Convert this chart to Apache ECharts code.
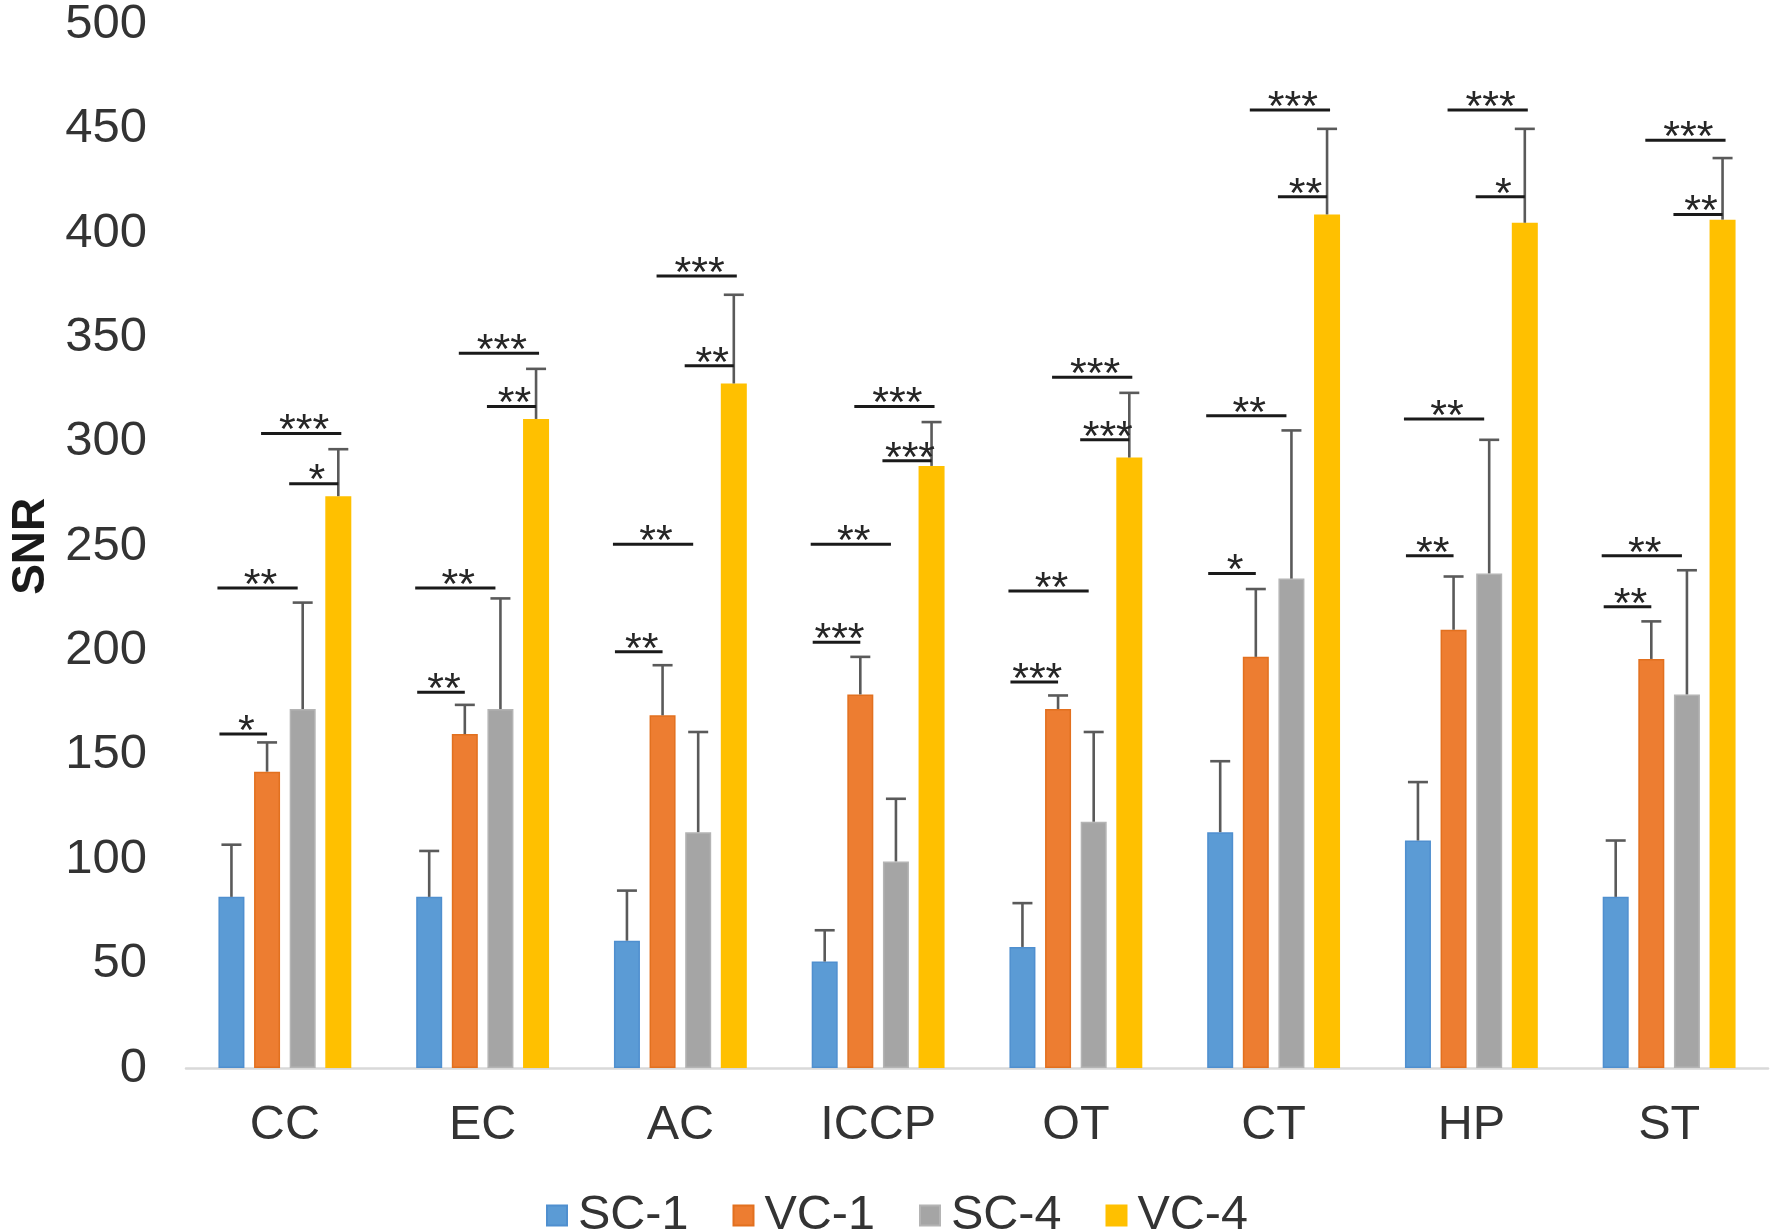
<!DOCTYPE html>
<html>
<head>
<meta charset="utf-8">
<script src="https://cdn.jsdelivr.net/npm/echarts@6/dist/echarts.min.js"></script>
<style>
html,body{margin:0;padding:0;background:#fff;}
#chart{width:1772px;height:1232px;}
</style>
</head>
<body>
<div id="chart"></div>
<script>
// ---------- data ----------
var categories = ['CC', 'EC', 'AC', 'ICCP', 'OT', 'CT', 'HP', 'ST'];
var seriesNames = ['SC-1', 'VC-1', 'SC-4', 'VC-4'];
var sc1    = [82, 82, 61, 51, 58, 113, 109, 82];
var sc1Err = [25, 22, 24, 15, 21, 34, 28, 27];
var vc1    = [142, 160, 169, 179, 172, 197, 210, 196];
var vc1Err = [14, 14, 24, 18, 6.5, 32.5, 25.5, 18];
var sc4    = [172, 172, 113, 99, 118, 234.5, 237, 179];
var sc4Err = [51, 53, 48, 30, 43, 71, 64, 59.5];
var vc4    = [274, 311, 328, 288.5, 292.5, 409, 405, 406.5];
var vc4Err = [22.5, 24, 42.5, 21, 31, 41, 45, 29.5];
var yTicks = [0, 50, 100, 150, 200, 250, 300, 350, 400, 450, 500];
// significance brackets: [category index, from bar, to bar, level (SNR), label]
var significance = [
  [0, 0, 1, 160, '*'],   [0, 0, 2, 230, '**'], [0, 2, 3, 280, '*'],   [0, 1, 3, 304, '***'],
  [1, 0, 1, 180, '**'],  [1, 0, 2, 230, '**'], [1, 2, 3, 317, '**'],  [1, 1, 3, 342.5, '***'],
  [2, 0, 1, 199.5, '**'],[2, 0, 2, 251, '**'], [2, 2, 3, 336.5, '**'],[2, 1, 3, 379.5, '***'],
  [3, 0, 1, 204, '***'], [3, 0, 2, 251, '**'], [3, 2, 3, 291, '***'], [3, 1, 3, 317, '***'],
  [4, 0, 1, 185, '***'], [4, 0, 2, 228.5, '**'],[4, 2, 3, 301, '***'],[4, 1, 3, 331, '***'],
  [5, 0, 1, 237, '*'],   [5, 0, 2, 312.5, '**'],[5, 2, 3, 417.5, '**'],[5, 1, 3, 459, '***'],
  [6, 0, 1, 245.5, '**'],[6, 0, 2, 311, '**'], [6, 2, 3, 417.5, '*'], [6, 1, 3, 459, '***'],
  [7, 0, 1, 221, '**'],  [7, 0, 2, 245.5, '**'],[7, 2, 3, 409, '**'], [7, 1, 3, 444.5, '***']
];

// ---------- style ----------
var FONT = "'Liberation Sans', Arial, sans-serif";
var colors = ['#5B9BD5', '#ED7D31', '#A5A5A5', '#FFC000'];
var borders = ['#4f8fcf', '#e2701f', '#b4b4b4', '#FFC000'];
var BAR_W = 26;
var BAR_GAP = 0.37;
var STEP = BAR_W * (1 + BAR_GAP);
var barOffsets = [-1.5 * STEP, -0.5 * STEP, 0.5 * STEP, 1.5 * STEP];
var endAdjust = { '0-1': [-12, 0], '0-2': [-14, -5], '2-3': [-13.5, 0], '1-3': [-6, 3] };

var means = [sc1, vc1, sc4, vc4];
var errs = [sc1Err, vc1Err, sc4Err, vc4Err];

var errData = [];
for (var s = 0; s < 4; s++) {
  for (var c = 0; c < categories.length; c++) {
    errData.push([c, means[s][c], means[s][c] + errs[s][c], s]);
  }
}

function renderErr(params, api) {
  var c = api.value(0), m = api.value(1), top = api.value(2), s = api.value(3);
  var p0 = api.coord([c, m]);
  var p1 = api.coord([c, top]);
  var x = p0[0] + barOffsets[s];
  var cap = 10;
  var st = { stroke: '#5a5a5a', lineWidth: 2.6 };
  return {
    type: 'group',
    children: [
      { type: 'line', shape: { x1: x, y1: p0[1], x2: x, y2: p1[1] }, style: st },
      { type: 'line', shape: { x1: x - cap, y1: p1[1], x2: x + cap, y2: p1[1] }, style: st }
    ]
  };
}

function renderSig(params, api) {
  var item = significance[params.dataIndex];
  var c = item[0], from = item[1], to = item[2], lvl = item[3], label = item[4];
  var p = api.coord([c, lvl]);
  var adj = endAdjust[from + '-' + to];
  var x1 = p[0] + barOffsets[from] + adj[0];
  var x2 = p[0] + barOffsets[to] + adj[1];
  return {
    type: 'group',
    children: [
      { type: 'line', shape: { x1: x1, y1: p[1], x2: x2, y2: p[1] }, style: { stroke: '#1a1a1a', lineWidth: 3 } },
      { type: 'text', x: (x1 + x2) / 2 + 3, y: p[1] - 2,
        style: { text: label, fill: '#262626', font: '43px ' + FONT, align: 'center', verticalAlign: 'middle' } }
    ]
  };
}

var series = seriesNames.map(function (n, i) {
  return {
    name: n, type: 'bar', data: means[i], barWidth: BAR_W, barGap: (BAR_GAP * 100) + '%',
    itemStyle: { color: colors[i], borderColor: borders[i], borderWidth: 1.5 },
    silent: true, animation: false
  };
});
series.push({
  type: 'custom', renderItem: renderErr, data: errData, encode: { x: 0, y: [1, 2] },
  clip: false, silent: true, animation: false, z: 5
});
series.push({
  type: 'custom', renderItem: renderSig,
  data: significance.map(function (d) { return [d[0], d[3]]; }),
  encode: { x: 0, y: 1 }, clip: false, silent: true, animation: false, z: 6
});

var chart = echarts.init(document.getElementById('chart'), null, { renderer: 'canvas' });
chart.setOption({
  backgroundColor: '#ffffff',
  animation: false,
  textStyle: { fontFamily: FONT },
  grid: { left: 174, right: 4, top: 20, bottom: 164, containLabel: false },
  legend: {
    data: seriesNames, left: 546, top: 1191, padding: 0,
    icon: 'rect', itemWidth: 20, itemHeight: 20, itemGap: 44,
    textStyle: { fontSize: 48.5, color: '#333', fontFamily: FONT, padding: [0, 0, 0, 6] }
  },
  xAxis: {
    type: 'category', data: categories,
    axisTick: { show: false },
    axisLine: { lineStyle: { color: '#d9d9d9', width: 2.5 } },
    axisLabel: { fontSize: 48.5, color: '#333', margin: 33, interval: 0, fontFamily: FONT }
  },
  yAxis: {
    type: 'value', min: yTicks[0], max: yTicks[yTicks.length - 1], interval: yTicks[1] - yTicks[0],
    name: 'SNR', nameLocation: 'middle', nameGap: 132,
    nameTextStyle: { fontSize: 46, fontWeight: 'bold', color: '#1a1a1a', fontFamily: FONT },
    axisLine: { show: false }, axisTick: { show: false }, splitLine: { show: false },
    axisLabel: { fontSize: 49, color: '#333', margin: 39, fontFamily: FONT }
  },
  series: series
});
</script>
</body>
</html>
